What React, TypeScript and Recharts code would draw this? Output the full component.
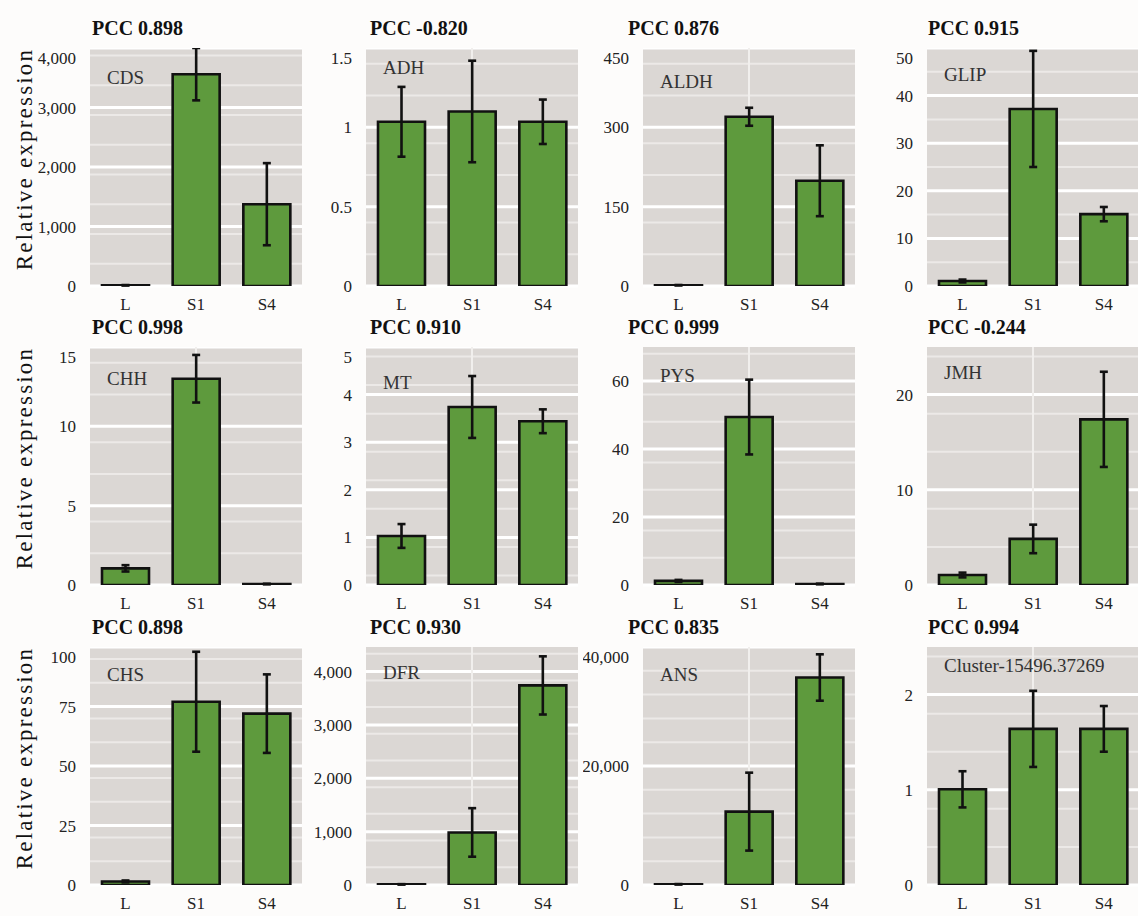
import React from "react";
import { Bar, BarChart, CartesianGrid, ErrorBar, XAxis, YAxis } from "recharts";

const categories = ["L", "S1", "S4"];

// mean values and error (sd) per gene, order L / S1 / S4
const cdsMean = [12, 3560, 1375];
const cdsErr = [4, 440, 690];
const adhMean = [1.035, 1.1, 1.035];
const adhErr = [0.22, 0.32, 0.14];
const aldhMean = [1.5, 320, 199];
const aldhErr = [0.4, 17, 67];
const glipMean = [1.05, 37.2, 15.1];
const glipErr = [0.3, 12.2, 1.5];

const chhMean = [1.05, 13.0, 0.06];
const chhErr = [0.2, 1.5, 0.02];
const mtMean = [1.03, 3.74, 3.44];
const mtErr = [0.25, 0.65, 0.25];
const pysMean = [1.2, 49.4, 0.3];
const pysErr = [0.3, 11, 0.1];
const jmhMean = [1.05, 4.84, 17.4];
const jmhErr = [0.25, 1.5, 5];

const chsMean = [1.5, 77, 72];
const chsErr = [0.4, 21, 16.5];
const dfrMean = [12, 985, 3740];
const dfrErr = [4, 455, 545];
const ansMean = [120, 12330, 34870];
const ansErr = [40, 6550, 3900];
const clusterMean = [1.005, 1.64, 1.64];
const clusterErr = [0.19, 0.4, 0.24];

const cdsTicks = [0, 1000, 2000, 3000, 4000];
const adhTicks = [0, 0.5, 1, 1.5];
const aldhTicks = [0, 150, 300, 450];
const glipTicks = [0, 10, 20, 30, 40, 50];
const chhTicks = [0, 5, 10, 15];
const mtTicks = [0, 1, 2, 3, 4, 5];
const pysTicks = [0, 20, 40, 60];
const jmhTicks = [0, 10, 20];
const chsTicks = [0, 25, 50, 75, 100];
const dfrTicks = [0, 1000, 2000, 3000, 4000];
const ansTicks = [0, 20000, 40000];
const clusterTicks = [0, 1, 2];

const PCC = ["0.898", "-0.820", "0.876", "0.915", "0.998", "0.910", "0.999", "-0.244", "0.898", "0.930", "0.835", "0.994"];

const panels = [
  { gene: "CDS", mean: cdsMean, err: cdsErr, ticks: cdsTicks, max: 4000, minor: 125, vline: false, ly: 19 },
  { gene: "ADH", mean: adhMean, err: adhErr, ticks: adhTicks, max: 1.5, minor: 0.1, vline: true, ly: 9 },
  { gene: "ALDH", mean: aldhMean, err: aldhErr, ticks: aldhTicks, max: 450, minor: 30, vline: true, ly: 23 },
  { gene: "GLIP", mean: glipMean, err: glipErr, ticks: glipTicks, max: 50, minor: 5, vline: false, ly: 16 },
  { gene: "CHH", mean: chhMean, err: chhErr, ticks: chhTicks, max: 15, minor: 1, vline: true, ly: 21 },
  { gene: "MT", mean: mtMean, err: mtErr, ticks: mtTicks, max: 5, minor: 0.2, vline: true, ly: 25 },
  { gene: "PYS", mean: pysMean, err: pysErr, ticks: pysTicks, max: 70, minor: 4, vline: true, ly: 18 },
  { gene: "JMH", mean: jmhMean, err: jmhErr, ticks: jmhTicks, max: 25, minor: 2, vline: true, ly: 15 },
  { gene: "CHS", mean: chsMean, err: chsErr, ticks: chsTicks, max: 100, minor: 5, vline: false, ly: 17 },
  { gene: "DFR", mean: dfrMean, err: dfrErr, ticks: dfrTicks, max: 4460, minor: 1000 / 6, vline: true, ly: 15 },
  { gene: "ANS", mean: ansMean, err: ansErr, ticks: ansTicks, max: 40000, minor: 4000, vline: true, ly: 17 },
  { gene: "Cluster-15496.37269", mean: clusterMean, err: clusterErr, ticks: clusterTicks, max: 2.5, minor: 0.2, vline: true, ly: 8 },
];

const plotLefts = [90, 366, 643, 927];
const titleLefts = [92, 370, 628, 928];
const plotTops = [48, 347, 647];
const PLOT_W = 212;
const PLOT_H = 238;
const AXIS_W = 60;

const FONT = "'Liberation Serif', 'Times New Roman', serif";
const BG = "#dbd7d4";
const GREEN = "#5e9a3d";

const fmt = (v: number) => v.toLocaleString("en-US");

function Panel({ p, idx }: { p: (typeof panels)[number]; idx: number }) {
  const col = idx % 4;
  const row = Math.floor(idx / 4);
  const left = plotLefts[col];
  const top = plotTops[row];
  const data = categories.map((c, i) => ({ name: c, value: p.mean[i], err: p.err[i] }));
  const minorVals: number[] = [];
  for (let k = 1; k * p.minor < p.max - 1e-9; k++) {
    const v = +(k * p.minor).toFixed(6);
    if (!p.ticks.some((t) => Math.abs(t - v) < 1e-6)) minorVals.push(v);
  }
  return (
    <>
      <div
        style={{
          position: "absolute",
          left: titleLefts[col],
          top: top - 30,
          fontFamily: FONT,
          fontWeight: "bold",
          fontSize: 20,
          lineHeight: "20px",
          color: "#111",
          whiteSpace: "nowrap",
        }}
      >
        PCC {PCC[idx]}
      </div>
      <div style={{ position: "absolute", left: left - AXIS_W, top }}>
        <BarChart
          width={AXIS_W + PLOT_W}
          height={PLOT_H + 30}
          data={data}
          margin={{ top: 0, right: 0, bottom: 0, left: 0 }}
        >
          <CartesianGrid
            fill={BG}
            vertical={false}
            horizontalValues={minorVals}
            stroke="#ece9e7"
            strokeWidth={2}
          />
          <CartesianGrid vertical={false} horizontalValues={p.ticks} stroke="#ffffff" strokeWidth={3} />
          {p.vline && (
            <CartesianGrid horizontal={false} verticalValues={["S1"]} stroke="#f1efed" strokeWidth={2} />
          )}
          <XAxis
            dataKey="name"
            axisLine={false}
            tickLine={false}
            tickSize={0}
            tickMargin={12}
            height={30}
            tick={{ fontFamily: FONT, fontSize: 17, fill: "#222" }}
          />
          <YAxis
            domain={[0, p.max]}
            ticks={p.ticks}
            allowDataOverflow
            axisLine={false}
            tickLine={false}
            tickSize={0}
            tickMargin={14}
            width={AXIS_W}
            tickFormatter={fmt}
            tick={{ fontFamily: FONT, fontSize: 17, fill: "#222" }}
          />
          <Bar
            dataKey="value"
            fill={GREEN}
            stroke="#111"
            strokeWidth={2.6}
            barSize={47}
            isAnimationActive={false}
          >
            <ErrorBar dataKey="err" width={4} stroke="#111" strokeWidth={2.6} direction="y" />
          </Bar>
        </BarChart>
      </div>
      <div
        style={{
          position: "absolute",
          left: left + 17,
          top: top + p.ly,
          fontFamily: FONT,
          fontSize: 19,
          lineHeight: "22px",
          color: "#333",
          whiteSpace: "nowrap",
        }}
      >
        {p.gene}
      </div>
    </>
  );
}

export default function App() {
  return (
    <div
      style={{
        position: "absolute",
        left: 0,
        top: 0,
        width: 1138,
        height: 916,
        background: "#fdfcfb",
        overflow: "hidden",
      }}
    >
      {panels.map((p, i) => (
        <Panel key={p.gene} p={p} idx={i} />
      ))}
      {plotTops.map((t) => (
        <div
          key={t}
          style={{
            position: "absolute",
            left: 25 - 140,
            top: t + PLOT_H / 2 - 8 - 14,
            width: 280,
            height: 28,
            lineHeight: "28px",
            textAlign: "center",
            transform: "rotate(-90deg)",
            fontFamily: FONT,
            fontSize: 23,
            letterSpacing: "2.2px",
            color: "#111",
            whiteSpace: "nowrap",
          }}
        >
          Relative expression
        </div>
      ))}
    </div>
  );
}
